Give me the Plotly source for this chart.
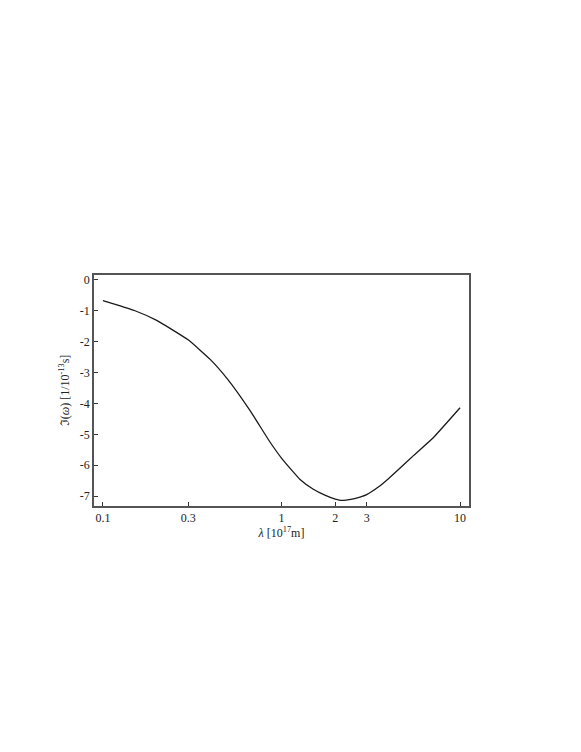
import plotly.graph_objects as go

# wavelength (10^17 m) and imaginary part of omega (1/10^-13 s)
lam = [0.1, 0.15, 0.2, 0.3, 0.4, 0.5, 0.67, 0.86, 1.0, 1.14, 1.27, 1.5,
       1.75, 2.0, 2.14, 2.3, 2.6, 3.0, 3.5, 4.0, 4.6, 5.5, 7.1, 10.0]
im_omega = [-0.67, -0.99, -1.31, -1.94, -2.58, -3.22, -4.25, -5.24, -5.77,
            -6.16, -6.46, -6.77, -6.97, -7.10, -7.14, -7.13, -7.07, -6.95,
            -6.70, -6.42, -6.10, -5.68, -5.10, -4.14]

x_ticks = [0.1, 0.3, 1, 2, 3, 10]
x_labels = ["0.1", "0.3", "1", "2", "3", "10"]
y_ticks = [0, -1, -2, -3, -4, -5, -6, -7]
y_labels = ["0", "-1", "-2", "-3", "-4", "-5", "-6", "-7"]

serif = "Liberation Serif"

fig = go.Figure()
fig.add_trace(go.Scatter(x=lam, y=im_omega, mode="lines",
                         line=dict(color="#1a1a1a", width=1.3, shape="spline",
                                   smoothing=0.4),
                         showlegend=False))

axis_common = dict(showline=True, linecolor="#555555", linewidth=1.5,
                   mirror=True, ticks="inside", ticklen=4, tickwidth=1,
                   tickcolor="#333333", showgrid=False, zeroline=False,
                   tickfont=dict(family=serif, size=12, color="#222222"))

fig.update_xaxes(type="log", range=[-1.05, 1.05], tickvals=x_ticks,
                 ticktext=x_labels,
                 title=dict(text="<i>λ</i> [10<sup>17</sup>m]", standoff=2,
                            font=dict(family=serif, size=12, color="#222222")),
                 **axis_common)
fig.update_yaxes(range=[-7.32, 0.16], tickvals=y_ticks, ticktext=y_labels,
                 title=dict(text="ℑ(<i>ω</i>) [1/10<sup>-13</sup>s]",
                            standoff=8,
                            font=dict(family=serif, size=12, color="#222222")),
                 **axis_common)

# the page body adds about 8px round the plot div
fig.update_layout(width=581, height=752, autosize=False,
                  margin=dict(l=86, r=120, t=267, b=254),
                  paper_bgcolor="white", plot_bgcolor="white")

fig.write_html("out.html")
